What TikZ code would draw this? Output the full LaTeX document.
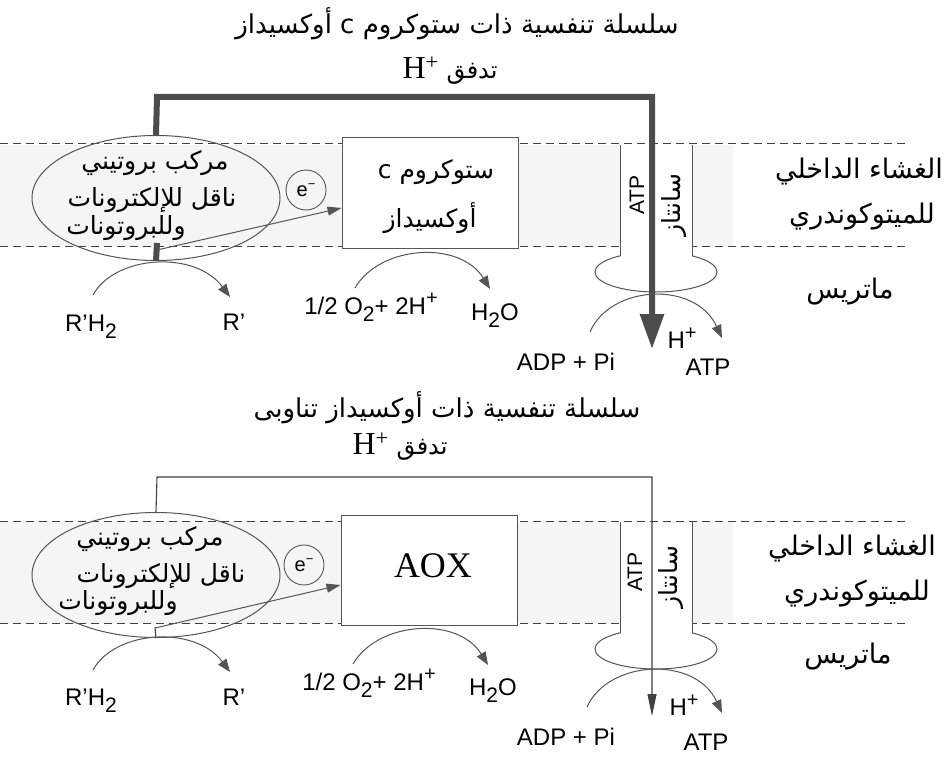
\documentclass[tikz,border=0pt]{standalone}
\usepackage{fontspec}
\setmainfont{Liberation Serif}
\newfontfamily\arabicfont[Script=Arabic]{DejaVu Sans}
\newfontfamily\labfont{Liberation Sans}
\TeXXeTstate=1
\usetikzlibrary{shapes.geometric,arrows.meta}
\newcommand\mysb[1]{\raisebox{-0.55ex}{\fontsize{21}{22}\selectfont #1}}
\newcommand\mysp[1]{\raisebox{0.75ex}{\fontsize{20}{21}\selectfont #1}}
\definecolor{lc}{HTML}{555555}
\tikzset{
  memline/.style={draw=black!75, line width=1pt, dash pattern=on 8pt off 5pt},
  band/.style={fill=black!4},
  ell/.style={ellipse, draw=lc, line width=1pt, minimum width=248pt, minimum height=125pt, inner sep=0pt},
  ar/.style={font=\arabicfont\fontsize{25}{29}\selectfont, inner sep=0pt},
  arside/.style={font=\arabicfont\fontsize{27}{31}\selectfont, inner sep=0pt},
  artitle/.style={font=\arabicfont\fontsize{26}{30}\selectfont, inner sep=0pt},
  lab/.style={font=\labfont\fontsize{24}{27}\selectfont, inner sep=0pt},
  hflow/.style={font=\fontsize{32}{34}\selectfont, inner sep=0pt},
  enz/.style={rectangle, draw=lc, line width=1pt, fill=white, minimum width=176pt, minimum height=110pt, inner sep=0pt},
  ecirc/.style={circle, draw=lc, line width=0.9pt, minimum size=40pt, inner sep=0pt, font=\labfont\fontsize{20}{22}\selectfont},
  react/.style={draw=lc, line width=1pt, -{Triangle[length=13pt,width=10pt]}},
  earrow/.style={draw=lc, line width=1pt, -{Triangle[length=14pt,width=9pt]}},
  flowthick/.style={draw=black!70, line width=6pt, -{Triangle[length=35pt,width=23pt]}},
  flowthin/.style={draw=black!75, line width=1.1pt, -{Triangle[length=22pt,width=9pt]}},
  synth/.style={draw=lc, line width=1pt, fill=white},
  stemside/.style={draw=lc, line width=1pt},
}
\begin{document}
\begin{tikzpicture}[x=1pt,y=-1pt]
\useasboundingbox (0,0) rectangle (945,757);
\fill[white] (0,0) rectangle (945,757);

% ================= TOP PANEL =================
\node[artitle] (titleA) at (457,24) {\beginR سلسلة تنفسية ذات ستوكروم c أوكسيداز\endR};
\node[hflow] (hfA) at (450,71) {H\textsuperscript{+} {\arabicfont\fontsize{24}{28}\selectfont\beginR تدفق\endR}};

\fill[band] (0,145) rectangle (733,246);
\draw[memline] (0,144) -- (910,144);
\draw[memline] (0,246) -- (905,246);

\node[ell] (ellA) at (156,198) {};
\node[ar] (ellA1) at (155,163) {\beginR مركب بروتيني\endR};
\node[ar] (ellA2) at (152,200) {\beginR ناقل للإلكترونات\endR};
\node[ar] (ellA3) at (126,228) {\beginR وللبروتونات\endR};

\node[ecirc] (eA) at (306,190) {e\mysp{\fontsize{13}{13}\selectfont −}};

\node[enz] (cytA) at (430,193) {};
\node[ar] (cytA1) at (436,172) {\beginR ستوكروم c\endR};
\node[ar] (cytA2) at (430,218) {\beginR أوكسيداز\endR};

% ATP synthase
\draw[synth] (656,272) ellipse [x radius=61, y radius=20];
\fill[white] (620.5,145.5) rectangle (691.5,262);
\draw[stemside] (620,145) -- (620,256);
\draw[stemside] (692,145) -- (692,256);
\node[lab, rotate=90, font=\labfont\fontsize{21}{24}\selectfont] (atpA) at (637,195) {ATP};
\node[ar, rotate=90] (sanA) at (674,205) {\beginR سانتاز\endR};

% right labels
\node[arside] (memA1) at (859,172) {\beginR الغشاء الداخلي\endR};
\node[arside] (memA2) at (862,217) {\beginR للميتوكوندري\endR};
\node[arside] (matA) at (850,292) {\beginR ماتريس\endR};

% H+ flow
\coordinate (tipA) at (652,349);
\draw[flowthick] (ellA.north) -- (157,97) -- (652,97) -- (tipA);
\draw[draw=black!70, line width=6pt] (157,243) -- (ellA.south);
\draw[earrow] (157,250) -- ([yshift=-15pt]cytA.west);

% reactions
\node[lab] (rhA) at (91,327) {R’H\mysb{2}};
\node[lab] (rpA) at (234,322) {R’};
\coordinate (rA1) at (93,295);
\coordinate (rA2) at (230,297);
\draw[react] (rA1) .. controls (115,255) and (195,250) .. (rA2);

\node[lab] (oxA) at (371,307) {1/2 O\mysb{2}+ 2H\mysp{+}};
\node[lab] (h2oA) at (495,316) {H\mysb{2}O};
\coordinate (oA1) at (355,288);
\coordinate (oA2) at (490,289);
\draw[react] (oA1) .. controls (380,245) and (460,240) .. (oA2);

\node[lab] (adpA) at (566,362) {ADP + Pi};
\node[lab] (atpoA) at (708,367) {ATP};
\node[lab] (hpA) at (682,338) {H\mysp{+}};
\coordinate (aA1) at (590,332);
\coordinate (aA2) at (722,338);
\draw[react] (aA1) .. controls (610,285) and (695,280) .. (aA2);

% ================= BOTTOM PANEL =================
\begin{scope}[shift={(0,377)}]
\node[artitle] (titleB) at (447,31) {\beginR سلسلة تنفسية ذات أوكسيداز تناوبى\endR};
\node[hflow] (hfB) at (400,70) {H\textsuperscript{+} {\arabicfont\fontsize{24}{28}\selectfont\beginR تدفق\endR}};

\fill[band] (0,145) rectangle (733,246);
\draw[memline] (0,144) -- (910,144);
\draw[memline] (0,246) -- (905,246);

\node[ell] (ellB) at (156,198) {};
\node[ar] (ellB1) at (150,162) {\beginR مركب بروتيني\endR};
\node[ar] (ellB2) at (161,199) {\beginR ناقل للإلكترونات\endR};
\node[ar] (ellB3) at (118,226) {\beginR وللبروتونات\endR};

\node[ecirc] (eB) at (304,188) {e\mysp{\fontsize{13}{13}\selectfont −}};

\node[enz] (aoxB) at (429,193) {};
\node[font=\fontsize{36}{38}\selectfont, inner sep=0pt] (aoxT) at (433,189) {AOX};

\draw[synth] (656,272) ellipse [x radius=61, y radius=20];
\fill[white] (620.5,145.5) rectangle (691.5,262);
\draw[stemside] (620,145) -- (620,256);
\draw[stemside] (692,145) -- (692,256);
\node[lab, rotate=90, font=\labfont\fontsize{21}{24}\selectfont] (atpB) at (635,195) {ATP};
\node[ar, rotate=90] (sanB) at (671,200) {\beginR سانتاز\endR};

\node[arside] (memB1) at (852,172) {\beginR الغشاء الداخلي\endR};
\node[arside] (memB2) at (857,217) {\beginR للميتوكوندري\endR};
\node[arside] (matB) at (848,280) {\beginR ماتريس\endR};

\coordinate (tipB) at (652,339);
\draw[flowthin] (ellB.north) -- (157,100) -- (652,100) -- (tipB);
\draw[draw=black!75, line width=1.1pt] (155,250) -- (ellB.south);
\draw[earrow] (155,251) -- ([yshift=-15pt]aoxB.west);

\node[lab] (rhB) at (91,324) {R’H\mysb{2}};
\node[lab] (rpB) at (234,320) {R’};
\coordinate (rB1) at (93,293);
\coordinate (rB2) at (230,295);
\draw[react] (rB1) .. controls (115,253) and (195,248) .. (rB2);

\node[lab] (oxB) at (369,306) {1/2 O\mysb{2}+ 2H\mysp{+}};
\node[lab] (h2oB) at (493,314) {H\mysb{2}O};
\coordinate (oB1) at (353,287);
\coordinate (oB2) at (488,288);
\draw[react] (oB1) .. controls (378,244) and (458,239) .. (oB2);

\node[lab] (adpB) at (566,360) {ADP + Pi};
\node[lab] (atpoB) at (706,365) {ATP};
\node[lab] (hpB) at (684,328) {H\mysp{+}};
\coordinate (aB1) at (587,330);
\coordinate (aB2) at (722,336);
\draw[react] (aB1) .. controls (608,283) and (695,278) .. (aB2);
\end{scope}
\end{tikzpicture}
\end{document}
